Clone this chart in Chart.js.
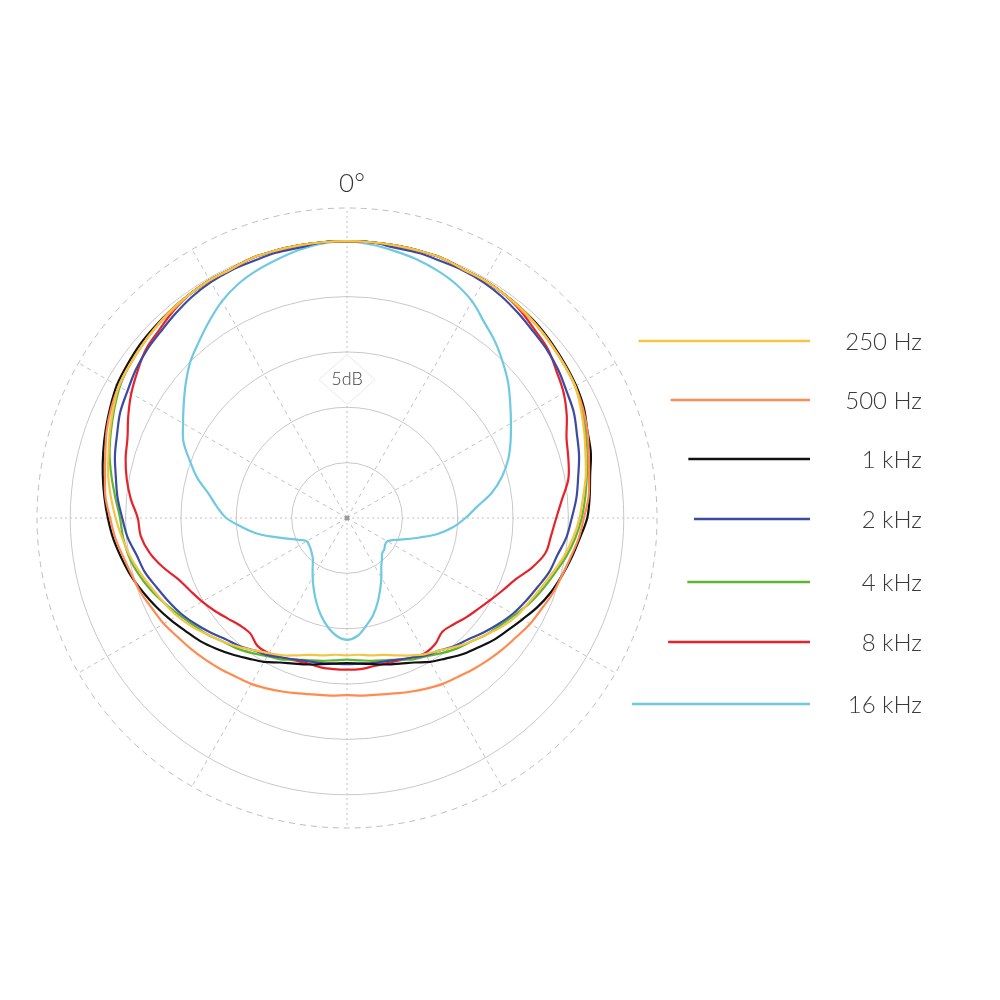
<!DOCTYPE html>
<html>
<head>
<meta charset="utf-8">
<title>Polar pattern</title>
<script src="https://cdn.jsdelivr.net/npm/chart.js@4.4.1/dist/chart.umd.min.js"></script>
<style>
  html, body { margin: 0; padding: 0; background: #ffffff; }
  #polarChart { display: block; }
</style>
</head>
<body>
<canvas id="polarChart" width="1000" height="1000"></canvas>
<script>
// angle of each measurement, clockwise from the front (0°)
const angles = [0, 5, 10, 15, 20, 25, 30, 35, 40, 45, 50, 55, 60, 65, 70, 75, 80, 85,
    90, 95, 100, 105, 110, 115, 120, 125, 130, 135, 140, 145, 150, 155, 160, 165, 170, 175,
    180, 185, 190, 195, 200, 205, 210, 215, 220, 225, 230, 235, 240, 245, 250, 255, 260, 265,
    270, 275, 280, 285, 290, 295, 300, 305, 310, 315, 320, 325, 330, 335, 340, 345, 350, 355];

const freqLabels = ['250 Hz', '500 Hz', '1 kHz', '2 kHz', '4 kHz', '8 kHz', '16 kHz'];
const lineColors = ['#f6c445', '#ff8b4e', '#111111', '#3b4aa3', '#5db533', '#e5232b', '#6fc9e1'];

// ring values in dB (last one is the dashed outer ring)
const ringValues = [-25, -20, -15, -10, -5, 0, 3];

// response in dB
const hz250 = [0, 0, 0, 0, 0, -0.2, -0.2, -0.3, -0.4, -0.6, -0.8, -1.0, -1.2, -1.7, -2.2, -2.7, -3.1, -3.6,
    -4.0, -4.5, -5.1, -5.8, -6.4, -6.9, -7.3, -7.9, -8.6, -9.2, -9.8, -10.4, -10.8, -11.3, -11.8, -12.2, -12.4, -12.6,
    -12.6, -12.6, -12.4, -12.2, -11.8, -11.3, -10.9, -10.4, -9.8, -9.2, -8.6, -7.9, -7.3, -6.8, -6.3, -5.7, -5.1, -4.6,
    -4.1, -3.6, -3.1, -2.7, -2.2, -1.7, -1.2, -1.0, -0.8, -0.6, -0.4, -0.3, -0.2, -0.2, 0, 0, 0, 0];
const hz500 = [0, 0, 0, 0, 0, -0.2, -0.2, -0.3, -0.5, -0.6, -0.8, -1.0, -1.2, -1.5, -1.9, -2.4, -2.8, -3.1,
    -3.6, -4.0, -4.5, -4.9, -5.2, -5.6, -5.9, -6.3, -6.6, -6.9, -7.2, -7.5, -7.7, -8.0, -8.3, -8.6, -8.8, -8.9,
    -9.0, -8.9, -8.8, -8.6, -8.3, -8.0, -7.7, -7.5, -7.2, -6.9, -6.6, -6.3, -5.9, -5.6, -5.2, -4.9, -4.5, -4.0,
    -3.6, -3.1, -2.8, -2.4, -1.9, -1.5, -1.2, -1.0, -0.8, -0.6, -0.5, -0.3, -0.2, -0.2, 0, 0, 0, 0];
const khz1 = [0, 0, 0, 0, 0, -0.2, -0.2, -0.3, -0.4, -0.5, -0.7, -0.9, -1.1, -1.4, -1.9, -2.2, -2.7, -3.0,
    -3.3, -3.9, -4.4, -4.9, -5.4, -6.0, -6.7, -7.3, -7.8, -8.4, -8.9, -9.5, -10.0, -10.6, -11.0, -11.3, -11.6, -11.8,
    -11.9, -11.8, -11.6, -11.3, -11.0, -10.6, -10.0, -9.5, -8.9, -8.3, -7.7, -7.2, -6.6, -6.0, -5.4, -4.8, -4.3, -3.8,
    -3.4, -3.0, -2.6, -2.2, -1.8, -1.4, -1.0, -0.8, -0.6, -0.5, -0.4, -0.3, -0.2, -0.2, 0, 0, 0, 0];
const khz2 = [0, 0, -0.2, -0.2, -0.3, -0.3, -0.4, -0.6, -0.9, -1.2, -1.4, -1.7, -2.1, -2.4, -2.9, -3.3, -3.8, -4.2,
    -4.7, -5.1, -5.7, -6.1, -6.7, -7.2, -7.7, -8.3, -8.9, -9.5, -9.9, -10.4, -10.7, -11.1, -11.4, -11.6, -11.7, -11.8,
    -11.8, -11.8, -11.7, -11.6, -11.4, -11.1, -10.7, -10.4, -9.9, -9.5, -8.9, -8.3, -7.7, -7.2, -6.7, -6.1, -5.7, -5.1,
    -4.7, -4.2, -3.8, -3.3, -2.9, -2.4, -2.1, -1.7, -1.4, -1.2, -0.9, -0.6, -0.4, -0.3, -0.3, -0.2, -0.2, 0];
const khz4 = [0, 0, 0, 0, 0, -0.2, -0.2, -0.3, -0.4, -0.6, -0.8, -1.0, -1.2, -1.6, -2.1, -2.5, -3.0, -3.4,
    -3.8, -4.3, -4.9, -5.6, -6.2, -6.8, -7.5, -8.1, -8.6, -9.2, -9.6, -10.1, -10.6, -10.9, -11.4, -11.7, -11.9, -12.1,
    -12.2, -12.1, -11.9, -11.7, -11.4, -10.9, -10.6, -10.1, -9.6, -9.2, -8.6, -8.1, -7.5, -6.8, -6.1, -5.5, -5.0, -4.7,
    -4.5, -4.0, -3.4, -2.8, -2.3, -1.8, -1.3, -1.0, -0.8, -0.6, -0.4, -0.3, -0.2, -0.2, 0, 0, 0, 0];
const khz8 = [0, 0, 0, 0, 0, -0.2, -0.2, -0.3, -0.6, -1.0, -1.3, -1.9, -2.4, -3.1, -3.9, -4.3, -4.7, -5.5,
    -6.1, -6.5, -6.8, -7.7, -8.8, -9.5, -10.1, -10.6, -11.0, -11.4, -11.6, -11.1, -10.9, -11.1, -11.3, -11.4, -11.4, -11.3,
    -11.3, -11.3, -11.3, -11.4, -11.3, -11.1, -10.9, -10.9, -11.4, -11.3, -10.9, -10.4, -9.9, -9.4, -8.8, -7.8, -6.9, -6.3,
    -6.1, -5.4, -4.8, -4.3, -3.9, -3.2, -2.5, -1.9, -1.3, -1.0, -0.6, -0.3, -0.2, -0.2, 0, 0, 0, 0];
const khz16 = [0, -0.2, -0.5, -0.8, -1.2, -1.7, -2.4, -3.4, -4.2, -5.1, -6.0, -7.0, -7.9, -8.7, -9.5, -10.5, -11.7, -13.2,
    -14.3, -15.4, -16.7, -18.2, -19.4, -20.3, -20.8, -20.8, -20.6, -20.5, -20.1, -19.6, -18.8, -17.9, -16.9, -15.9, -15.1, -14.3,
    -14.0, -14.3, -15.0, -15.9, -16.9, -17.9, -18.8, -19.6, -20.2, -20.5, -20.7, -20.8, -20.8, -20.3, -19.5, -18.3, -16.8, -15.5,
    -14.1, -13.2, -12.3, -11.0, -9.9, -8.7, -7.9, -7.0, -6.0, -5.0, -4.2, -3.3, -2.4, -1.7, -1.2, -0.8, -0.4, -0.1];

const seriesData = [hz250, hz500, khz1, khz2, khz4, khz8, khz16];

// draws the centre dot, the 5dB marker, the 0° label and the side legend
const chartExtras = {
    id: 'chartExtras',
    beforeDatasetsDraw(chart) {
        const s = chart.scales.r;
        const c = chart.ctx;
        c.save();
        c.fillStyle = '#9a9a9a';
        c.beginPath();
        c.arc(s.xCenter, s.yCenter, 2.5, 0, Math.PI * 2);
        c.fill();

        const x = s.xCenter;
        const y = s.yCenter - s.getDistanceFromCenterForValue(-12.5);
        c.beginPath();
        c.moveTo(x, y - 25);
        c.lineTo(x + 28, y);
        c.lineTo(x, y + 25);
        c.lineTo(x - 28, y);
        c.closePath();
        c.fillStyle = '#ffffff';
        c.fill();
        c.strokeStyle = '#e8e8e8';
        c.lineWidth = 1;
        c.stroke();
        c.fillStyle = '#444444';
        c.font = '300 18px Lato, "Open Sans", sans-serif';
        c.textAlign = 'center';
        c.textBaseline = 'middle';
        c.fillText('5dB', x, y);
        c.restore();
    },
    afterDraw(chart) {
        const s = chart.scales.r;
        const c = chart.ctx;
        const R = s.drawingArea;
        c.save();
        c.fillStyle = '#333333';
        c.font = '300 26px Lato, "Open Sans", sans-serif';
        c.textAlign = 'center';
        c.textBaseline = 'middle';
        c.fillText('0°', s.xCenter + 5, s.yCenter - R - 24);

        // legend rows, lines start a fixed gap outside the dashed ring
        const rowOffsets = [-177, -118, -59, 1, 64, 124, 186];
        c.font = '300 24px Lato, "Open Sans", sans-serif';
        c.textAlign = 'right';
        chart.data.datasets.forEach((ds, i) => {
            const dy = rowOffsets[i];
            const y = s.yCenter + dy;
            const x0 = s.xCenter + Math.sqrt(R * R - dy * dy) + 37;
            c.strokeStyle = ds.borderColor;
            c.lineWidth = 2.5;
            c.beginPath();
            c.moveTo(x0, y);
            c.lineTo(810, y);
            c.stroke();
            c.fillStyle = '#3a3a3a';
            c.fillText(ds.label, 922, y + 1);
        });
        c.restore();
    }
};

const ctx = document.getElementById('polarChart').getContext('2d');
const polarChart = new Chart(ctx, {
    type: 'radar',
    data: {
        labels: angles,
        datasets: seriesData.map((vals, i) => ({
            label: freqLabels[i],
            data: vals,
            borderColor: lineColors[i],
            borderWidth: 2.2,
            pointRadius: 0,
            fill: false,
            tension: 0.35
        }))
    },
    options: {
        responsive: false,
        animation: false,
        layout: {
            padding: { left: 37, right: 343, top: 208, bottom: 172 }
        },
        plugins: {
            legend: { display: false },
            tooltip: { enabled: false }
        },
        scales: {
            r: {
                min: -25,
                max: 3,
                afterBuildTicks: axis => {
                    axis.ticks = ringValues.map(v => ({ value: v }));
                },
                ticks: { display: false },
                pointLabels: { display: false },
                grid: {
                    circular: true,
                    color: c => c.index === ringValues.length - 1 ? '#bdbdbd' : '#c8c8c8',
                    lineWidth: 1
                },
                border: {
                    dash: c => c.index === ringValues.length - 1 ? [6, 5] : []
                },
                angleLines: {
                    color: '#c2c2c2',
                    lineWidth: c => c.index % 6 === 0 ? 1 : 0,
                    borderDash: c => c.index % 18 === 0 ? [2, 3] : [4, 4]
                }
            }
        }
    },
    plugins: [chartExtras]
});
</script>
</body>
</html>
